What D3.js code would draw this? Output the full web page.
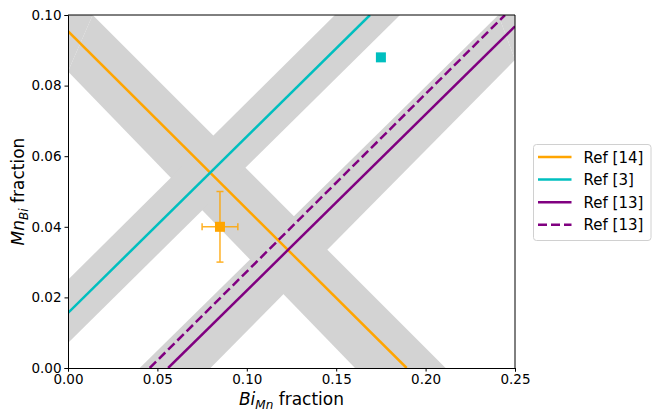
<!DOCTYPE html>
<html lang="en">
<head>
  <meta charset="UTF-8">
  <script src="https://d3js.org/d3.v7.min.js"></script>
  <title>Bi_Mn vs Mn_Bi</title>
  <style>
    body { margin: 0; background: #fff; }
    svg text { font-family: "DejaVu Sans", sans-serif; fill: #000; }
  </style>
</head>
<body>
<div id="chart"></div>
<script>
  // data (fractions)
  const xTicks = [0.00, 0.05, 0.10, 0.15, 0.20, 0.25];
  const yTicks = [0.00, 0.02, 0.04, 0.06, 0.08, 0.10];

  // grey uncertainty bands, each as two edges [x1, y1, x2, y2]
  const bandRef14 = [[0.0138, 0.10, 0.2112, 0.0], [0.0, 0.084, 0.1605, 0.0]];
  const bandRef3 = [[0.0, 0.025, 0.1493, 0.10], [0.0, 0.0071, 0.1857, 0.10]];
  const bandRef13 = [[0.0401, 0.0, 0.2407, 0.10], [0.0797, 0.0, 0.25, 0.0873]];

  // reference lines [x1, y1, x2, y2]
  const lineRef14 = [0.0, 0.0954, 0.1894, 0.0];
  const lineRef3 = [0.0, 0.0156, 0.1689, 0.10];
  const lineRef13 = [0.056, 0.0, 0.25, 0.0968];
  const lineRef13b = [0.0457, 0.0, 0.2444, 0.10];

  const lineLabels = ["Ref [14]", "Ref [3]", "Ref [13]", "Ref [13]"];
  const lineColors = ["#ffa500", "#00bfbf", "#800080", "#800080"];
  const lineDashes = [null, null, null, "9,4"];

  // measured points
  const pointOrange = { x: 0.085, y: 0.040, xerr: 0.010, yerr: 0.010 };
  const pointCyan = { x: 0.175, y: 0.088 };

  const W = 664, H = 420;
  const margin = { top: 15, right: 149, bottom: 52, left: 68 };
  const width = W - margin.left - margin.right,
    height = H - margin.top - margin.bottom;

  const svg = d3.select("#chart").append("svg")
    .attr("width", W).attr("height", H);
  const g = svg.append("g")
    .attr("transform", `translate(${margin.left},${margin.top})`);

  const x = d3.scaleLinear().domain([0, 0.25]).range([0, width]);
  const y = d3.scaleLinear().domain([0, 0.10]).range([height, 0]);

  g.append("clipPath").attr("id", "clip")
    .append("rect").attr("width", width).attr("height", height);
  const plot = g.append("g").attr("clip-path", "url(#clip)");
  const path = d3.line().x(d => x(d[0])).y(d => y(d[1]));

  // bands: quad made from the two edges
  [bandRef14, bandRef3, bandRef13].forEach(function (b) {
    const [a, c] = b;
    const pts = [[a[0], a[1]], [a[2], a[3]], [c[2], c[3]], [c[0], c[1]]];
    plot.append("path").attr("d", path(pts) + "Z").attr("fill", "#d3d3d3");
  });
  // corner pieces of the frame that lie inside a band
  plot.append("path").attr("d", path([[0, 0.084], [0, 0.10], [0.0138, 0.10]]) + "Z")
    .attr("fill", "#d3d3d3");
  plot.append("path").attr("d", path([[0.2407, 0.10], [0.25, 0.10], [0.25, 0.0873]]) + "Z")
    .attr("fill", "#d3d3d3");

  const lines = [lineRef14, lineRef3, lineRef13, lineRef13b];
  lines.forEach(function (l, i) {
    plot.append("line")
      .attr("x1", x(l[0])).attr("y1", y(l[1]))
      .attr("x2", x(l[2])).attr("y2", y(l[3]))
      .attr("stroke", lineColors[i])
      .attr("stroke-width", 2.5)
      .attr("stroke-dasharray", lineDashes[i]);
  });

  // error bars
  const eb = g.append("g").attr("stroke", "#ffa500").attr("stroke-width", 1.5)
    .attr("opacity", 0.85);
  const p = pointOrange;
  eb.append("line").attr("x1", x(p.x - p.xerr)).attr("x2", x(p.x + p.xerr))
    .attr("y1", y(p.y)).attr("y2", y(p.y));
  eb.append("line").attr("x1", x(p.x)).attr("x2", x(p.x))
    .attr("y1", y(p.y - p.yerr)).attr("y2", y(p.y + p.yerr));
  [p.x - p.xerr, p.x + p.xerr].forEach(v => eb.append("line")
    .attr("x1", x(v)).attr("x2", x(v)).attr("y1", y(p.y) - 3.5).attr("y2", y(p.y) + 3.5));
  [p.y - p.yerr, p.y + p.yerr].forEach(v => eb.append("line")
    .attr("y1", y(v)).attr("y2", y(v)).attr("x1", x(p.x) - 3.5).attr("x2", x(p.x) + 3.5));

  const sq = 10;
  g.append("rect").attr("x", x(p.x) - sq / 2).attr("y", y(p.y) - sq / 2)
    .attr("width", sq).attr("height", sq).attr("fill", "#ffa500");
  g.append("rect").attr("x", x(pointCyan.x) - sq / 2).attr("y", y(pointCyan.y) - sq / 2)
    .attr("width", sq).attr("height", sq).attr("fill", "#00bfbf");

  // axes
  const xAxis = g.append("g").attr("transform", `translate(0,${height})`)
    .call(d3.axisBottom(x).tickValues(xTicks).tickFormat(d3.format(".2f")).tickSizeOuter(0).tickSize(3.5).tickPadding(3));
  const yAxis = g.append("g")
    .call(d3.axisLeft(y).tickValues(yTicks).tickFormat(d3.format(".2f")).tickSizeOuter(0).tickSize(3.5).tickPadding(3));
  g.append("line").attr("x1", width).attr("x2", width).attr("y1", 0).attr("y2", height).attr("stroke", "#000");
  g.append("line").attr("x1", 0).attr("x2", width).attr("y1", 0).attr("y2", 0).attr("stroke", "#000");
  [xAxis, yAxis].forEach(a => {
    a.selectAll("text").attr("font-size", "13.5px").attr("font-family", "DejaVu Sans, sans-serif");
    a.select(".domain").attr("stroke", "#000");
  });

  // axis labels
  const xl = svg.append("text")
    .attr("x", margin.left + width / 2).attr("y", 405)
    .attr("text-anchor", "middle").attr("font-size", "17px");
  xl.append("tspan").attr("font-style", "italic").text("Bi");
  xl.append("tspan").attr("font-style", "italic").attr("font-size", "12px").attr("dy", 4).text("Mn");
  xl.append("tspan").attr("dy", -4).text(" fraction");

  const yl = svg.append("text")
    .attr("transform", `translate(24,${margin.top + height / 2}) rotate(-90)`)
    .attr("text-anchor", "middle").attr("font-size", "17px");
  yl.append("tspan").attr("font-style", "italic").text("Mn");
  yl.append("tspan").attr("font-style", "italic").attr("font-size", "12px").attr("dy", 4).text("Bi");
  yl.append("tspan").attr("dy", -4).text(" fraction");

  // legend
  const lg = svg.append("g").attr("transform", "translate(533.5,144.5)");
  lg.append("rect").attr("width", 117.5).attr("height", 96).attr("rx", 3)
    .attr("fill", "#fff").attr("stroke", "#d0d0d0").attr("stroke-width", 1);
  lineLabels.forEach(function (lab, i) {
    const yy = 12.5 + i * 22.6;
    lg.append("line").attr("x1", 4.5).attr("x2", 38).attr("y1", yy).attr("y2", yy)
      .attr("stroke", lineColors[i]).attr("stroke-width", 2.5)
      .attr("stroke-dasharray", lineDashes[i]);
    lg.append("text").attr("x", 50).attr("y", yy + 5.5).attr("font-size", "15px").text(lab);
  });
</script>
</body>
</html>
